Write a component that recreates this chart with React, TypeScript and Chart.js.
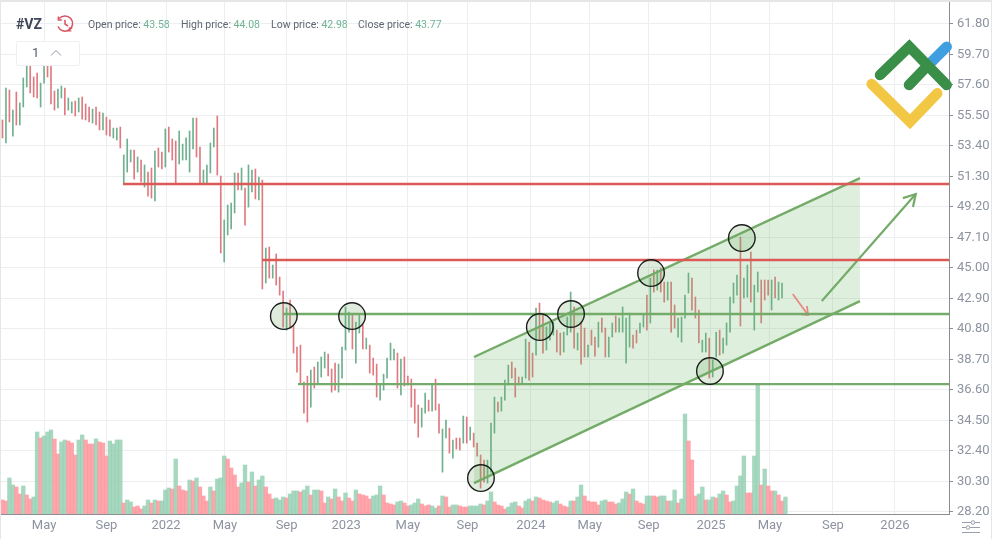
import { useEffect, useRef } from "react"
import { Chart, registerables } from "chart.js"

Chart.register(...registerables)

// weekly bars, one entry per week
const highs = [
  55.19, 57.39, 57.25, 55.87, 57.11, 56.36, 58.08, 59.18, 59.11, 58.15,
  58.42, 57.73, 59.11, 59.11, 59.11, 57.18, 57.32, 57.53, 57.39, 56.7,
  56.43, 56.49, 56.7, 56.77, 56.29, 56.08, 55.94, 56.08, 55.74, 55.67,
  55.39, 55.19, 54.63, 54.63, 54.7, 52.78, 53.88, 53.12, 53.12, 52.64,
  52.43, 52.09, 51.6, 51.88, 53.05, 53.26, 52.98, 54.57, 54.7, 53.88,
  53.74, 54.43, 53.53, 53.95, 54.43, 55.32, 55.32, 53.33, 51.74, 52.09,
  53.6, 54.63, 55.46, 51.33, 48.3, 49.33, 49.47, 51.54, 51.54, 51.88,
  50.5, 52.09, 51.74, 51.81, 51.26, 51.05, 46.37, 46.44, 45.2, 45.96,
  44.37, 43.41, 42.24, 42.79, 41.0, 39.55, 39.69, 37.14, 37.55, 37.97,
  38.18, 38.52, 38.87, 39.21, 39.07, 38.04, 38.45, 38.38, 39.55, 42.31,
  41.96, 41.76, 41.27, 41.76, 41.07, 40.17, 39.69, 38.8, 38.38, 36.94,
  37.69, 38.8, 39.83, 39.42, 39.14, 38.73, 38.87, 37.55, 37.35, 36.66,
  35.56, 35.35, 36.38, 35.9, 36.94, 37.35, 35.63, 33.91, 34.52, 33.97,
  33.15, 33.29, 33.29, 34.8, 34.73, 34.04, 33.63, 32.94, 32.12, 31.77,
  31.77, 34.32, 36.11, 35.77, 36.11, 37.28, 38.31, 38.52, 38.11, 37.49,
  37.49, 40.1, 39.9, 39.14, 42.24, 42.58, 41.76, 40.93, 41.21, 41.27,
  40.72, 40.52, 40.58, 41.62, 43.34, 42.31, 40.52, 41.27, 40.86, 39.69,
  40.72, 40.24, 41.27, 41.55, 40.86, 40.24, 41.21, 41.69, 41.55, 42.31,
  41.55, 41.89, 40.38, 40.72, 41.21, 41.76, 43.13, 44.3, 44.86, 44.86,
  45.0, 44.03, 44.03, 44.03, 42.45, 41.55, 41.62, 43.13, 44.65, 44.3,
  43.0, 42.1, 40.03, 40.52, 40.17, 38.66, 40.58, 40.72, 40.17, 41.21,
  43.0, 43.96, 44.51, 47.13, 44.3, 45.2, 46.1, 43.82, 44.72, 44.17,
  44.17, 44.17, 44.17, 44.37, 44.03, 43.96,
]

const lows = [
  53.95, 53.6, 55.05, 54.08, 54.84, 54.84, 56.08, 57.46, 57.05, 56.77,
  56.7, 56.08, 57.73, 58.15, 56.29, 55.87, 56.01, 56.7, 55.53, 55.87,
  55.67, 55.46, 55.74, 55.25, 55.19, 55.05, 54.98, 54.84, 54.5, 54.5,
  54.15, 54.08, 53.95, 53.81, 53.26, 50.78, 51.6, 52.29, 51.12, 51.6,
  50.92, 50.57, 49.95, 49.81, 49.61, 51.95, 51.81, 51.95, 52.98, 52.43,
  50.85, 52.16, 52.43, 52.43, 51.6, 53.19, 52.64, 50.85, 50.85, 50.85,
  51.54, 53.33, 51.4, 46.03, 45.41, 47.27, 47.68, 48.78, 50.37, 50.37,
  47.95, 49.19, 50.23, 49.75, 49.68, 43.55, 43.96, 44.3, 44.3, 43.82,
  43.13, 40.93, 40.72, 40.86, 39.14, 37.83, 37.07, 35.01, 34.39, 35.42,
  36.73, 37.07, 37.49, 38.11, 37.56, 36.45, 36.59, 36.45, 37.42, 39.35,
  40.58, 39.42, 38.45, 40.52, 39.42, 39.42, 37.76, 37.62, 36.11, 35.9,
  36.59, 37.42, 38.66, 38.66, 36.73, 36.25, 36.87, 36.94, 35.42, 34.32,
  33.35, 34.04, 35.01, 35.14, 35.14, 35.21, 33.63, 30.94, 33.29, 32.25,
  31.91, 32.53, 32.46, 32.94, 32.94, 33.15, 32.67, 32.05, 29.84, 30.26,
  30.19, 30.94, 33.63, 35.08, 35.14, 35.9, 36.94, 37.42, 36.11, 36.94,
  37.0, 37.42, 37.28, 37.49, 39.0, 40.03, 39.14, 39.35, 40.03, 40.38,
  39.21, 39.0, 39.21, 40.38, 40.58, 39.48, 39.35, 38.38, 38.87, 38.87,
  39.69, 38.93, 39.55, 40.58, 38.87, 38.87, 40.24, 40.58, 40.58, 40.58,
  38.45, 39.55, 39.48, 39.83, 40.52, 40.93, 40.72, 41.21, 43.34, 43.48,
  43.34, 42.65, 42.79, 40.58, 40.86, 40.24, 39.9, 41.55, 43.27, 42.1,
  41.55, 39.83, 39.21, 39.21, 37.42, 37.49, 38.87, 39.0, 39.14, 39.69,
  40.58, 42.58, 43.13, 41.0, 42.93, 42.99, 42.65, 40.72, 43.34, 41.21,
  42.79, 43.13, 42.1, 42.93, 42.79, 42.93,
]

// 1 = week closed up (green), 0 = down (red)
const priceUp = [
  0, 1, 0, 1, 0, 1, 1, 1, 0, 0, 0, 1, 1, 0, 0, 0, 1, 1, 0, 1,
  1, 0, 1, 0, 0, 0, 1, 0, 0, 1, 0, 0, 1, 1, 0, 1, 1, 1, 0, 1,
  0, 1, 0, 0, 1, 0, 0, 1, 0, 0, 0, 1, 1, 1, 1, 1, 0, 0, 1, 1,
  1, 1, 0, 0, 1, 1, 1, 1, 0, 1, 0, 1, 1, 0, 1, 0, 1, 0, 1, 0,
  0, 0, 1, 0, 0, 0, 0, 0, 0, 1, 0, 1, 1, 1, 0, 0, 0, 1, 1, 1,
  1, 0, 1, 1, 0, 1, 0, 0, 0, 1, 1, 1, 1, 1, 0, 1, 0, 0, 0, 0,
  0, 1, 1, 0, 1, 0, 0, 1, 1, 0, 1, 0, 0, 1, 0, 1, 0, 0, 0, 0,
  1, 1, 1, 0, 1, 1, 1, 0, 0, 0, 1, 1, 0, 0, 1, 0, 0, 1, 1, 1,
  0, 0, 1, 1, 1, 0, 1, 0, 0, 1, 0, 0, 1, 0, 0, 1, 1, 0, 1, 1,
  1, 1, 0, 0, 1, 1, 0, 1, 0, 1, 0, 0, 1, 0, 0, 1, 1, 1, 1, 0,
  0, 0, 1, 1, 0, 1, 1, 0, 1, 1, 1, 1, 1, 0, 1, 1, 0, 1, 1, 0,
  0, 0, 1, 0, 1, 1,
]

// volume in relative units, only the heights of the bars can be read
const volumes = [
  14, 13, 36, 29, 27, 20, 28, 19, 15, 17,
  82, 76, 78, 82, 84, 75, 60, 72, 74, 73,
  71, 59, 74, 79, 74, 70, 70, 75, 72, 71,
  58, 73, 70, 74, 74, 11, 14, 12, 7, 8,
  5, 8, 14, 11, 14, 13, 13, 24, 26, 25,
  55, 28, 24, 23, 34, 33, 36, 27, 18, 13,
  27, 23, 35, 36, 58, 55, 46, 39, 27, 31,
  49, 32, 42, 28, 34, 38, 27, 20, 15, 16,
  14, 17, 16, 20, 23, 23, 22, 24, 28, 19,
  24, 24, 23, 11, 17, 15, 25, 17, 13, 21,
  16, 13, 24, 20, 19, 18, 15, 18, 19, 28,
  19, 11, 10, 9, 12, 13, 11, 8, 9, 11,
  15, 10, 8, 9, 8, 6, 8, 18, 17, 7,
  9, 9, 8, 7, 7, 8, 8, 8, 10, 9,
  13, 22, 12, 9, 8, 5, 7, 11, 12, 8,
  6, 13, 15, 13, 17, 16, 14, 13, 12, 11,
  13, 10, 8, 7, 13, 13, 17, 29, 18, 13,
  12, 12, 9, 13, 14, 12, 12, 10, 11, 15,
  22, 20, 25, 13, 11, 10, 18, 18, 18, 17,
  18, 18, 13, 13, 24, 11, 15, 100, 73, 54,
  18, 20, 27, 14, 14, 17, 16, 20, 23, 19,
  12, 13, 28, 38, 58, 21, 21, 58, 130, 29,
  45, 28, 23, 23, 19, 13, 17,
]

const volumeUp = [
  0, 0, 1, 1, 0, 0, 1, 0, 0, 1,
  1, 0, 1, 1, 1, 0, 0, 1, 1, 0,
  0, 0, 1, 1, 0, 0, 0, 1, 0, 0,
  0, 1, 1, 1, 1, 0, 1, 1, 0, 0,
  0, 1, 1, 0, 1, 0, 1, 1, 1, 0,
  1, 0, 0, 0, 1, 0, 1, 0, 0, 0,
  1, 0, 1, 1, 1, 0, 0, 0, 0, 1,
  1, 0, 1, 0, 1, 1, 0, 0, 0, 1,
  1, 1, 0, 1, 1, 1, 0, 1, 1, 0,
  1, 1, 0, 0, 1, 0, 1, 0, 0, 1,
  0, 0, 1, 0, 0, 0, 0, 1, 1, 1,
  0, 0, 0, 0, 1, 1, 0, 0, 1, 1,
  1, 0, 0, 0, 1, 1, 0, 1, 0, 0,
  1, 1, 0, 0, 0, 1, 1, 1, 1, 0,
  1, 1, 0, 0, 0, 0, 1, 1, 1, 0,
  0, 1, 1, 0, 1, 0, 0, 0, 0, 1,
  1, 0, 0, 0, 1, 0, 1, 1, 0, 0,
  0, 0, 0, 1, 1, 0, 0, 0, 1, 1,
  1, 0, 1, 0, 0, 0, 1, 1, 0, 0,
  1, 1, 0, 1, 1, 0, 1, 1, 0, 0,
  0, 1, 1, 0, 1, 1, 0, 1, 1, 0,
  0, 1, 1, 1, 1, 0, 0, 1, 1, 0,
  1, 0, 0, 1, 0, 0, 1,
]

const priceTicks = [61.8, 59.7, 57.6, 55.5, 53.4, 51.3, 49.2, 47.1, 45.0, 42.9, 40.8, 38.7, 36.6, 34.5, 32.4, 30.3, 28.2]
const timeTickWeeks = [12, 30, 47.2, 64.2, 82, 99.2, 117, 134.2, 152.5, 169.5, 186.5, 204.5, 221.5, 239.7, 257.6]
const timeTickLabels = ["May", "Sep", "2022", "May", "Sep", "2023", "May", "Sep", "2024", "May", "Sep", "2025", "May", "Sep", "2026"]

// drawn trend lines, as [week, price]
const resistanceLevels = [
  { from: 34.8, price: 50.78 },
  { from: 74.9, price: 45.55 },
]
const supportLevels = [
  { from: 81, price: 41.83 },
  { from: 85.3, price: 37.0 },
]
const channelUpper = [[136.1, 38.87], [247.5, 51.19]]
const channelLower = [[136.1, 30.19], [247.5, 42.72]]
const forecastShaft = [[236.5, 42.72], [263.6, 50.09]]
const forecastHead = [[259.9, 49.81], [263.6, 50.09], [262.8, 49.19]]
const pullbackShaft = [[228.1, 43.2], [232.5, 41.76]]
const pullbackHead = [[230.2, 41.83], [232.5, 41.76], [232.2, 42.38]]
const touchPoints = [
  [81.2, 41.69], [100.9, 41.69], [138.1, 30.53], [155.1, 40.93],
  [164.1, 41.83], [187.2, 44.65], [204.2, 37.9], [213.4, 47.06],
]

const RED = "#dc5a55"
const GREEN = "#74ab68"
const LAST_WEEK = 273.2

const toXY = (pts: number[][]) => pts.map(([x, y]) => ({ x, y }))

const lineSet = (data: { x: number; y: number }[], color: string, width: number, order: number, extra = {}) => ({
  type: "line" as const,
  data,
  borderColor: color,
  borderWidth: width,
  pointRadius: 0,
  fill: false,
  tension: 0,
  order,
  xAxisID: "x",
  yAxisID: "y",
  ...extra,
})

// the lowest price label is cut off by the edge of the pane
const clipLowestLabel = {
  id: "clipLowestLabel",
  afterDraw(chart: Chart) {
    const { ctx, chartArea } = chart
    ctx.save()
    ctx.fillStyle = "#ffffff"
    ctx.fillRect(chartArea.right + 1, chartArea.bottom + 1, 41, 8)
    ctx.restore()
  },
}

function PriceChart() {
  const canvasRef = useRef<HTMLCanvasElement>(null)

  useEffect(() => {
    if (!canvasRef.current) return

    const font = { family: "Roboto", size: 13 }
    const chart = new Chart(canvasRef.current, {
      type: "bar",
      data: {
        datasets: [
          ...resistanceLevels.map((l) =>
            lineSet([{ x: l.from, y: l.price }, { x: LAST_WEEK, y: l.price }], RED, 2.4, 2)
          ),
          ...supportLevels.map((l) =>
            lineSet([{ x: l.from, y: l.price }, { x: LAST_WEEK, y: l.price }], GREEN, 2.4, 2)
          ),
          lineSet(toXY(channelUpper), GREEN, 2.4, 3, {
            fill: "+1",
            backgroundColor: "rgba(110, 180, 100, 0.22)",
          }),
          lineSet(toXY(channelLower), GREEN, 2.4, 3),
          lineSet(toXY(forecastShaft), GREEN, 2.2, 2),
          lineSet(toXY(forecastHead), GREEN, 2.2, 2),
          lineSet(toXY(pullbackShaft), "#e58a80", 1.8, 2),
          lineSet(toXY(pullbackHead), "#e58a80", 1.8, 2),
          {
            type: "scatter" as const,
            data: toXY(touchPoints),
            pointRadius: 13.3,
            pointBorderWidth: 1.4,
            pointBorderColor: "#1c1f1c",
            pointBackgroundColor: "rgba(110, 170, 100, 0.22)",
            order: 1,
            xAxisID: "x",
            yAxisID: "y",
          },
          {
            type: "bar" as const,
            data: highs.map((h, i) => ({ x: i, y: [lows[i], h] })),
            backgroundColor: priceUp.map((u) => (u ? "#6fb08f" : "#e07a80")),
            barThickness: 1,
            grouped: false,
            order: 5,
            xAxisID: "x",
            yAxisID: "y",
          },
          {
            type: "bar" as const,
            data: volumes.map((v, i) => ({ x: i, y: v })),
            backgroundColor: volumeUp.map((u) => (u ? "rgba(150, 208, 180, 0.85)" : "rgba(255, 150, 158, 0.85)")),
            barThickness: 3.7,
            grouped: false,
            order: 6,
            xAxisID: "x",
            yAxisID: "volume",
          },
        ],
      },
      options: {
        responsive: false,
        animation: false,
        devicePixelRatio: 1,
        layout: { autoPadding: false, padding: { top: 2, left: 0, right: 0, bottom: 0 } },
        plugins: { legend: { display: false }, tooltip: { enabled: false } },
        scales: {
          x: {
            type: "linear",
            offset: false,
            min: -0.72,
            max: LAST_WEEK,
            afterBuildTicks: (scale) => {
              scale.ticks = timeTickWeeks.map((value) => ({ value }))
            },
            afterFit: (scale) => {
              scale.height = 25
              scale.paddingLeft = 0
              scale.paddingRight = 0
            },
            ticks: {
              autoSkip: false,
              maxRotation: 0,
              padding: 4,
              color: "#8d93a0",
              font,
              callback: (_v, i) => timeTickLabels[i],
            },
            grid: { offset: false, color: "#eceef0", drawTicks: false },
            border: { color: "#8a8d92", width: 1 },
          },
          y: {
            position: "right",
            min: 28.06,
            max: 63.31,
            afterBuildTicks: (scale) => {
              scale.ticks = priceTicks.map((value) => ({ value }))
            },
            afterFit: (scale) => {
              scale.width = 43
              scale.paddingTop = 0
              scale.paddingBottom = 0
            },
            ticks: {
              autoSkip: false,
              padding: 4,
              color: "#8d93a0",
              font,
              callback: (v) => Number(v).toFixed(2),
            },
            grid: { color: "#eceef0", tickColor: "#8a8d92", tickLength: 4 },
            border: { color: "#8a8d92", width: 1 },
          },
          volume: {
            display: false,
            position: "left",
            min: 0,
            max: 512,
          },
        },
      },
      plugins: [clipLowestLabel],
    })

    return () => {
      chart.destroy()
    }
  }, [])

  return <canvas ref={canvasRef} width={992} height={539} style={{ display: "block" }} />
}

const labelStyle = { position: "absolute", top: 18, fontSize: 10.5, lineHeight: "13px", color: "#5f6672", whiteSpace: "nowrap" } as const
const valueStyle = { color: "#6fb595" }

const quotes = [
  { left: 88, label: "Open price:", value: "43.58" },
  { left: 181, label: "High price:", value: "44.08" },
  { left: 271, label: "Low price:", value: "42.98" },
  { left: 358, label: "Close price:", value: "43.77" },
]

export default function App() {
  return (
    <div
      style={{
        position: "absolute",
        left: 0,
        top: 0,
        width: 992,
        height: 539,
        overflow: "hidden",
        background: "#fff",
        fontFamily: "Roboto, sans-serif",
      }}
    >
      <PriceChart />
      <div style={{ position: "absolute", inset: 0, borderTop: "2px solid #e4e6e8", borderLeft: "1px solid #e4e6e8", borderRight: "1px solid #e4e6e8", pointerEvents: "none" }} />

      <div style={{ position: "absolute", left: 16, top: 16, fontSize: 14, lineHeight: "16px", fontWeight: 700, color: "#3d4759" }}>#VZ</div>
      <svg style={{ position: "absolute", left: 56, top: 15 }} width="18" height="18" viewBox="0 0 18 18" fill="none" stroke="#d9525f" strokeWidth="1.5">
        <path d="M3.2 3.6 A7.6 7.6 0 1 1 2 11.5" />
        <path d="M2.4 1.5 V5 H5.8" />
        <path d="M9 4.8 V9.2 L12 11" />
        <path d="M12.5 13 h3 l-3 3 h3" strokeWidth="1.2" />
      </svg>
      {quotes.map((q) => (
        <div key={q.label} style={{ ...labelStyle, left: q.left }}>
          {q.label} <span style={valueStyle}>{q.value}</span>
        </div>
      ))}

      <div style={{ position: "absolute", left: 16, top: 41, width: 62, height: 23, background: "#fff", border: "1px solid #eef0f2", borderRadius: 2 }}>
        <span style={{ position: "absolute", left: 15, top: 3, fontSize: 13, lineHeight: "16px", color: "#555c68" }}>1</span>
        <svg style={{ position: "absolute", left: 33, top: 7 }} width="12" height="8" viewBox="0 0 12 8" fill="none" stroke="#8d93a0" strokeWidth="1">
          <path d="M1 6.5 L6 1.5 L11 6.5" />
        </svg>
      </div>

      <svg style={{ position: "absolute", left: 860, top: 30 }} width="100" height="105" viewBox="860 30 100 105" fill="none" strokeWidth="10.5" strokeLinecap="round" strokeLinejoin="miter">
        <path d="M931.7 61.7 L946.7 46.7" stroke="#3f9fe0" />
        <path d="M871.7 84 L910 121.7 L937.3 93.3" stroke="#f2c744" />
        <path d="M880 75 L909.3 46.7 L946.7 85" stroke="#3a8f48" />
        <path d="M909 85 L926.7 66.7" stroke="#3a8f48" />
      </svg>

      <svg style={{ position: "absolute", left: 961, top: 520 }} width="20" height="15" viewBox="0 0 20 15" fill="none" stroke="#8d93a0" strokeWidth="0.9">
        <path d="M1 2.5 H10 M14 2.5 H19 M1 7.5 H5 M9 7.5 H19 M1 12.5 H19" />
        <circle cx="12" cy="2.5" r="1.8" />
        <circle cx="7" cy="7.5" r="1.8" />
      </svg>
    </div>
  )
}
